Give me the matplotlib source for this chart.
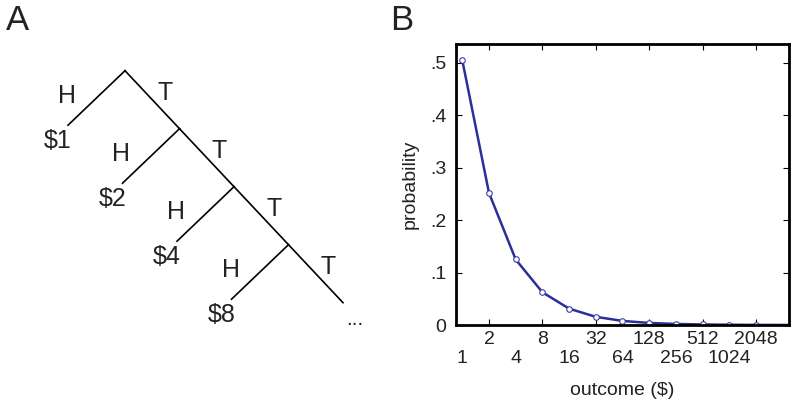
import matplotlib
matplotlib.use("Agg")
import matplotlib.pyplot as plt
import numpy as np

plt.rcParams['font.family'] = ['Liberation Sans', 'DejaVu Sans']

# ---- data ----
outcomes = [1, 2, 4, 8, 16, 32, 64, 128, 256, 512, 1024, 2048, 4096, 8192]
probs = [0.505, 0.252, 0.125, 0.0625, 0.03125, 0.0156, 0.0078, 0.0039,
         0.002, 0.001, 0.0005, 0.0002, 0.0001, 0.00005]
n_marked = 12
upper_ticks = [2, 8, 32, 128, 512, 2048]
lower_ticks = [1, 4, 16, 64, 256, 1024]
yticks = [0, 0.1, 0.2, 0.3, 0.4, 0.5]
yticklabels = ['0', '.1', '.2', '.3', '.4', '.5']
payoffs = ['$1', '$2', '$4', '$8']

W, H = 800, 405
fig = plt.figure(figsize=(W / 100, H / 100), dpi=100)
txt = '#222222'

# ---- panel A: tree in pixel coordinates ----
axA = fig.add_axes([0, 0, 1, 1])
axA.set_xlim(0, W)
axA.set_ylim(H, 0)
axA.axis('off')

root = np.array([125.0, 70.7])
t_step = np.array([54.5, 58.0])
h_step = np.array([-57.0, 54.5])
node = root.copy()
for i, p in enumerate(payoffs):
    hend = node + h_step
    axA.plot([node[0], hend[0]], [node[1], hend[1]], color='black', lw=1.2)
    tend = node + t_step
    axA.plot([node[0], tend[0]], [node[1], tend[1]], color='black', lw=1.2)
    axA.text(node[0] - 58, node[1] + 25, 'H', fontsize=18, color=txt,
             ha='center', va='center')
    axA.text(node[0] + 40, node[1] + 22, 'T', fontsize=18, color=txt,
             ha='center', va='center')
    axA.text(hend[0] - 10, hend[1] + 16, p, fontsize=18, color=txt,
             ha='center', va='center')
    node = tend
axA.text(node[0] + 12, node[1] + 17, '...', fontsize=15, color=txt,
         ha='center', va='center')
axA.text(6, 21, 'A', fontsize=25, color=txt, ha='left', va='center')
axA.text(390, 21, 'B', fontsize=25, color=txt, ha='left', va='center')

# ---- panel B ----
ax = fig.add_axes([456 / W, 80 / H, 333 / W, 281 / H])
ax.set_xscale('log', base=2)
ax.plot(outcomes, probs, color='#2b2f98', lw=1.8, marker='o', ms=4,
        mfc='white', mec='#3a3fa8', mew=0.8, markevery=list(range(n_marked)))
ax.set_xlim(2 ** -0.236, 2 ** 12.24)
ax.set_ylim(0, 0.536)

fs = 14
ax.set_xticks(upper_ticks)
ax.set_xticklabels([str(v) for v in upper_ticks])
ax.set_xticks(lower_ticks, minor=True)
ax.set_xticklabels([str(v) for v in lower_ticks], minor=True)
ax.tick_params(axis='x', which='major', direction='in', length=4, width=0.8,
               top=True, bottom=True, labelsize=fs, pad=4, colors='black',
               labelcolor=txt)
ax.tick_params(axis='x', which='minor', length=0, labelsize=fs, pad=18,
               labelcolor=txt)
ax.set_yticks(yticks)
ax.set_yticklabels(yticklabels)
ax.tick_params(axis='y', direction='in', length=4, width=0.8, left=True,
               right=True, labelsize=fs, pad=7, labelcolor=txt)
for s in ax.spines.values():
    s.set_linewidth(2.0)
ax.set_ylabel('probability', fontsize=14, color=txt, labelpad=8)
ax.set_xlabel('outcome ($)', fontsize=14, color=txt, labelpad=11)

fig.savefig('out.png', dpi=100)
